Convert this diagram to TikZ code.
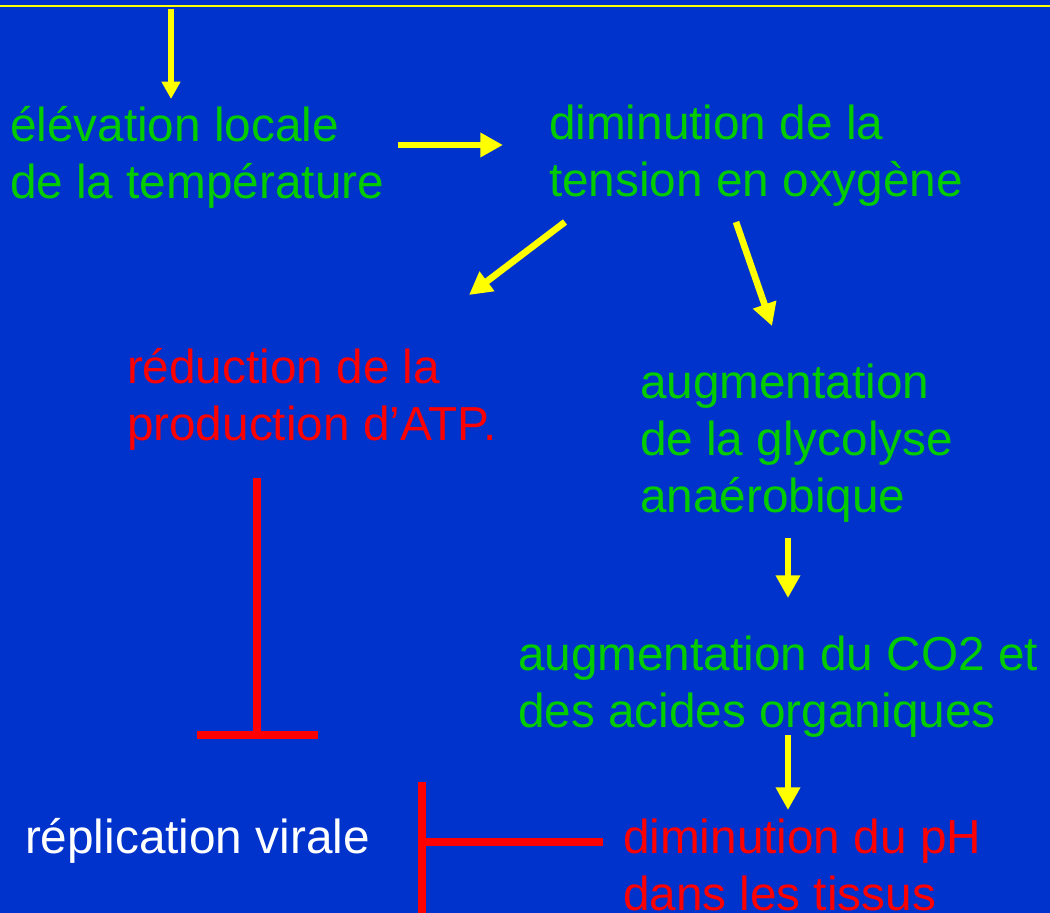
\documentclass[tikz,border=0pt]{standalone}
\usepackage{fontspec}
\setmainfont{Liberation Sans}
\usetikzlibrary{arrows.meta}
\definecolor{bgblue}{RGB}{0,51,204}
\definecolor{tgreen}{RGB}{0,204,0}
\definecolor{tred}{RGB}{255,0,0}
\definecolor{tyellow}{RGB}{255,255,0}
\tikzset{
  txt/.style={anchor=base west, inner sep=0pt, outer sep=0pt,
    font=\fontsize{35.8}{42.75}\selectfont},
  yarrow/.style={draw=tyellow, line width=5pt,
    -{Triangle[length=17pt,width=17.5pt]}},
  ysmall/.style={draw=tyellow, line width=4.5pt,
    -{Triangle[length=13pt,width=13.5pt]}},
  inhib/.style={draw=tred, line width=6pt},
}
\newcommand{\lines}[1]{\begin{tabular}[t]{@{}l@{}}#1\end{tabular}}
\begin{document}
\begin{tikzpicture}[x=0.75pt,y=-0.75pt]
\fill[bgblue] (0,0) rectangle (1050,913);
\useasboundingbox (0,0) rectangle (1050,913);
% top rule
\coordinate (topL) at (0,6);
\coordinate (topR) at (1050,6);
\draw[tyellow, line width=1.6pt] (topL) -- (topR);

% text nodes
\node[txt, text=tgreen] (elev) at (10,142) {\lines{élévation locale\\de la température}};
\node[txt, text=tgreen] (dimo) at (549,140) {\lines{diminution de la\\tension en oxygène}};
\node[txt, text=tred] (atp) at (127,383) {\lines{réduction de la\\production d’ATP.}};
\node[txt, text=tgreen] (glyc) at (640,398) {\lines{augmentation\\de la glycolyse\\anaérobique}};
\node[txt, text=tgreen] (co2) at (518,670) {\lines{augmentation du CO2 et\\des acides organiques}};
\node[txt, text=white] (repl) at (25,853) {réplication virale};
\node[txt, text=tred] (ph) at (623,853) {\lines{diminution du pH\\dans les tissus}};

% arrow end points
\coordinate (a0s) at (171,9);   \coordinate (a0e) at (171,99);
\coordinate (a1s) at (398,145); \coordinate (a1e) at (503,145);
\coordinate (a2s) at (565,222); \coordinate (a2e) at (469,295);
\coordinate (a3s) at (736,222); \coordinate (a3e) at (772,326);
\coordinate (a4s) at (788,538); \coordinate (a4e) at (788,598);
\coordinate (a5s) at (788,735); \coordinate (a5e) at (788,810);

\draw[ysmall] (a0s) -- (a0e);
\draw[yarrow] (a1s) -- (a1e);
\draw[yarrow] (a2s) -- (a2e);
\draw[yarrow] (a3s) -- (a3e);
\draw[yarrow] (a4s) -- (a4e);
\draw[yarrow] (a5s) -- (a5e);

% inhibition bars
\coordinate (i1s) at (257,478); \coordinate (i1e) at (257,735);
\coordinate (i1l) at (197,735); \coordinate (i1r) at (318,735);
\draw[inhib] (i1s) -- (i1e);
\draw[inhib] (i1l) -- (i1r);

\coordinate (i2s) at (603,842); \coordinate (i2e) at (422,842);
\coordinate (i2t) at (422,782); \coordinate (i2b) at (422,920);
\draw[inhib] (i2s) -- (i2e);
\draw[inhib] (i2t) -- (i2b);
\end{tikzpicture}
\end{document}
